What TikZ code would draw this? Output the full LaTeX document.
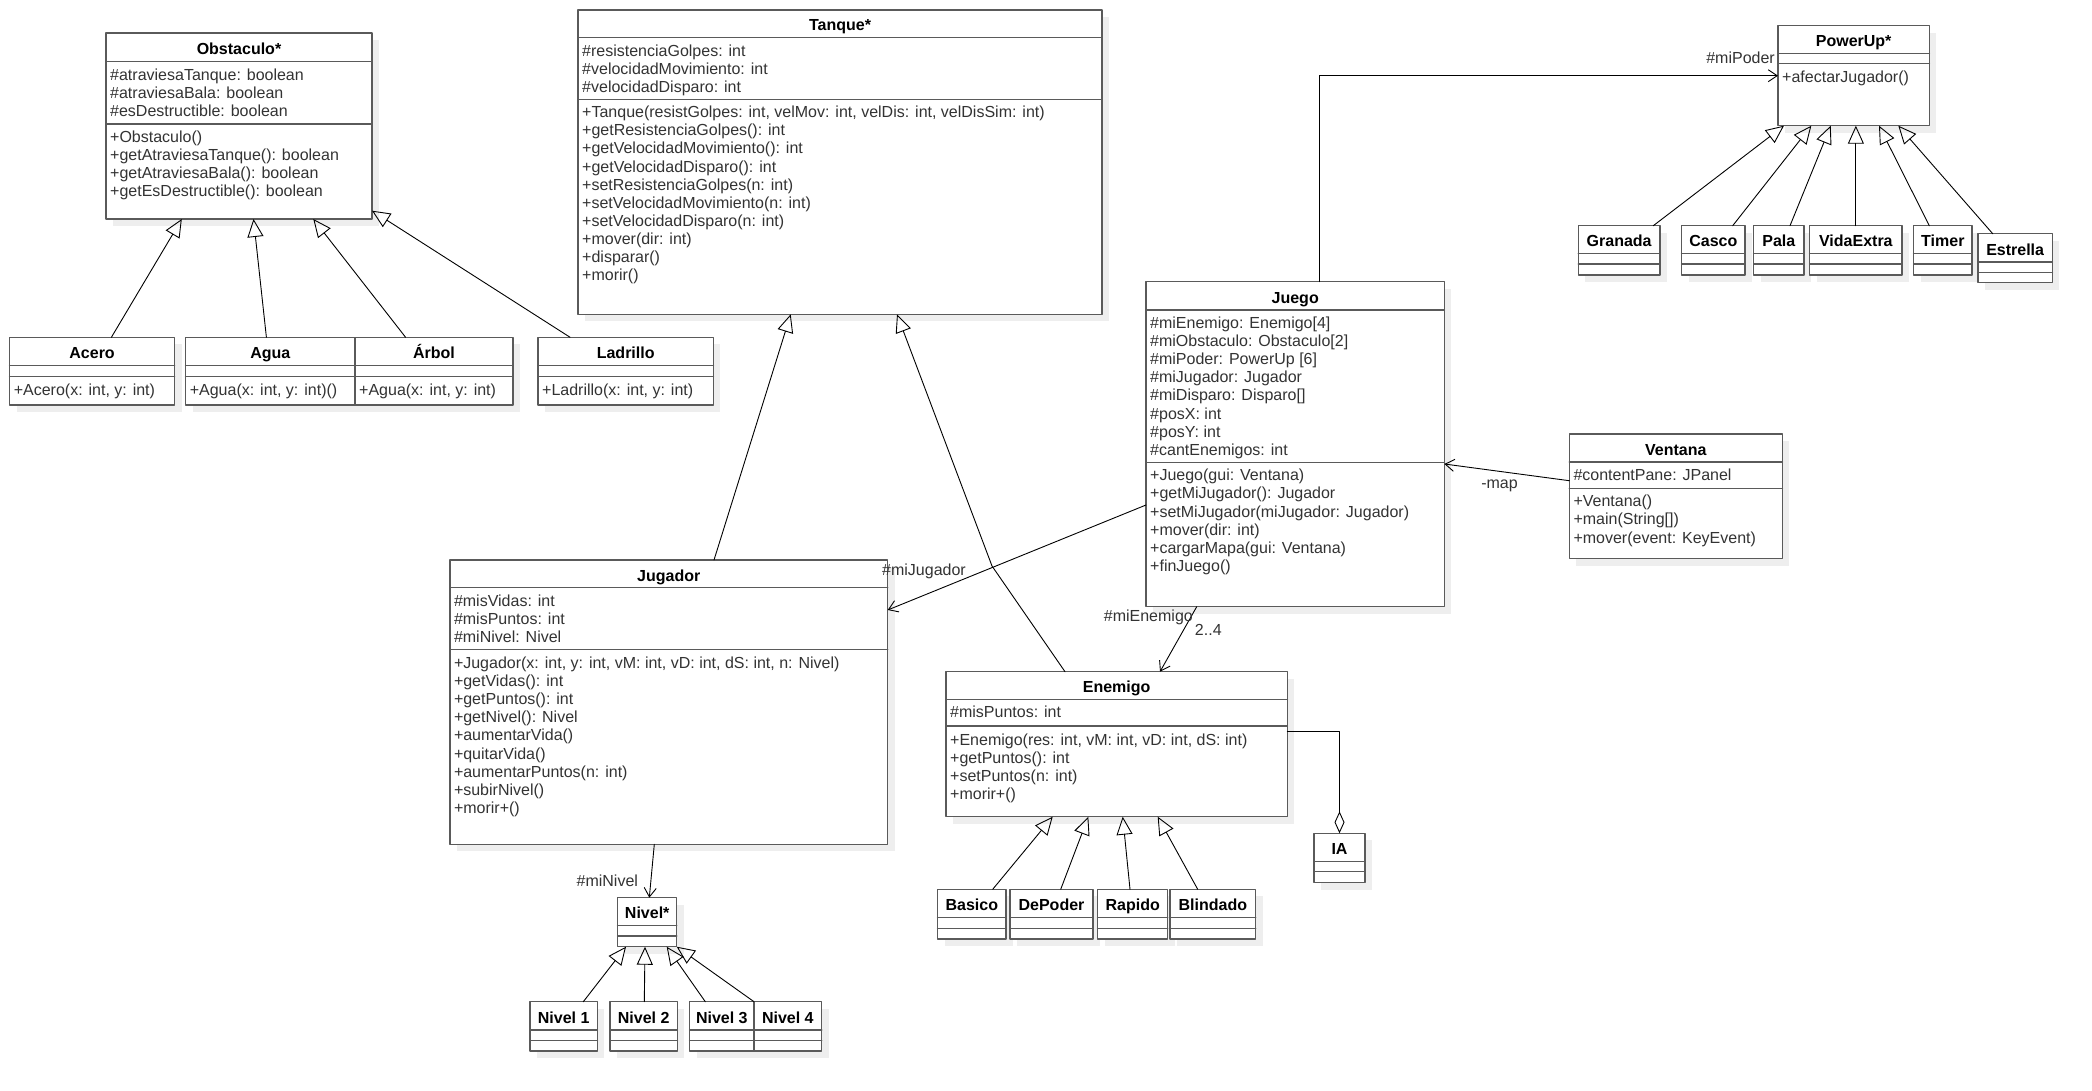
\documentclass[tikz,border=0pt]{standalone}
\usepackage{fontspec}
\setmainfont{Liberation Sans}
\usetikzlibrary{arrows.meta,shadows}
\definecolor{gris}{HTML}{5A5A5A}
\definecolor{tinta}{HTML}{333333}
\definecolor{sombra}{HTML}{EEEEEE}
\newcommand{\lineas}[1]{\begin{tabular}[t]{@{}l@{}}#1\end{tabular}}

\begin{document}
\begin{tikzpicture}[line cap=round,line join=round,x=1pt,y=-1pt,
	caja/.style={draw=gris,line width=1.5pt,fill=white,inner sep=0pt,outer sep=0pt,anchor=north west,
		drop shadow={shadow xshift=7pt,shadow yshift=-7pt,fill=sombra,opacity=1}},
	linea/.style={draw=gris,line width=1.5pt},
	titulo/.style={anchor=base,inner sep=0pt,yshift=-1.5pt,font=\fontsize{16}{18.1}\selectfont\bfseries},
	texto/.style={anchor=base west,inner sep=0pt,text=tinta,font=\fontsize{16}{18.1}\selectfont},
	etiqueta/.style={inner sep=0pt,text=tinta,font=\fontsize{16}{18.1}\selectfont},
	gen/.style={-{Triangle[open,length=18pt,width=16pt]},line width=0.9pt},
	asoc/.style={-{Straight Barb[length=9pt,width=12pt]},line width=0.9pt},
	agreg/.style={-{Diamond[open,length=22pt,width=10pt]},line width=0.9pt}]
			\fill[white] (0,0) rectangle (2092,1091);
			\node[caja,minimum width=266,minimum height=186] (obstaculo) at (106,33) {};
			\draw[linea] (106,61.7) -- (372,61.7) (106,124) -- (372,124);
			\node[titulo] (obstaculoT) at (239,53.1) {Obstaculo*};
			\node[texto] (obstaculoA) at (110,80.2) {\lineas{\#atraviesaTanque: boolean\\\#atraviesaBala: boolean\\\#esDestructible: boolean}};
			\node[texto] (obstaculoM) at (110,142.5) {\lineas{+Obstaculo()\\+getAtraviesaTanque(): boolean\\+getAtraviesaBala(): boolean\\+getEsDestructible(): boolean}};
			\node[caja,minimum width=165,minimum height=67.7] (acero) at (9.6,337.3) {};
			\draw[linea] (9.6,365.7) -- (174.6,365.7) (9.6,376.7) -- (174.6,376.7);
			\node[titulo] (aceroT) at (92.1,357.2) {Acero};
			\node[texto] (aceroM) at (13.6,395.2) {+Acero(x: int, y: int)};
			\node[caja,minimum width=169.4,minimum height=67.7] (agua) at (185.6,337.3) {};
			\draw[linea] (185.6,365.7) -- (355,365.7) (185.6,376.7) -- (355,376.7);
			\node[titulo] (aguaT) at (270.3,357.2) {Agua};
			\node[texto] (aguaM) at (189.6,395.2) {+Agua(x: int, y: int)()};
			\node[caja,minimum width=158,minimum height=67.7] (arbol) at (355,337.3) {};
			\draw[linea] (355,365.7) -- (513,365.7) (355,376.7) -- (513,376.7);
			\node[titulo] (arbolT) at (434,357.2) {Árbol};
			\node[texto] (arbolM) at (359,395.2) {+Agua(x: int, y: int)};
			\node[caja,minimum width=175.4,minimum height=67.7] (ladrillo) at (538,337.3) {};
			\draw[linea] (538,365.7) -- (713.4,365.7) (538,376.7) -- (713.4,376.7);
			\node[titulo] (ladrilloT) at (625.7,357.2) {Ladrillo};
			\node[texto] (ladrilloM) at (542,395.2) {+Ladrillo(x: int, y: int)};
			\node[caja,minimum width=524,minimum height=304.3] (tanque) at (578,10) {};
			\draw[linea] (578,37.7) -- (1102,37.7) (578,99.3) -- (1102,99.3);
			\node[titulo] (tanqueT) at (840,29.5) {Tanque*};
			\node[texto] (tanqueA) at (582,56.2) {\lineas{\#resistenciaGolpes: int\\\#velocidadMovimiento: int\\\#velocidadDisparo: int}};
			\node[texto] (tanqueM) at (582,117.8) {\lineas{+Tanque(resistGolpes: int, velMov: int, velDis: int, velDisSim: int)\\+getResistenciaGolpes(): int\\+getVelocidadMovimiento(): int\\+getVelocidadDisparo(): int\\+setResistenciaGolpes(n: int)\\+setVelocidadMovimiento(n: int)\\+setVelocidadDisparo(n: int)\\+mover(dir: int)\\+disparar()\\+morir()}};
			\node[caja,minimum width=437.9,minimum height=284.3] (jugador) at (449.8,560) {};
			\draw[linea] (449.8,587.7) -- (887.7,587.7) (449.8,649.3) -- (887.7,649.3);
			\node[titulo] (jugadorT) at (668.75,579.6) {Jugador};
			\node[texto] (jugadorA) at (453.8,606.2) {\lineas{\#misVidas: int\\\#misPuntos: int\\\#miNivel: Nivel}};
			\node[texto] (jugadorM) at (453.8,668.5) {\lineas{+Jugador(x: int, y: int, vM: int, vD: int, dS: int, n: Nivel)\\+getVidas(): int\\+getPuntos(): int\\+getNivel(): Nivel\\+aumentarVida()\\+quitarVida()\\+aumentarPuntos(n: int)\\+subirNivel()\\+morir+()}};
			\node[caja,minimum width=59,minimum height=49] (nivel) at (617.7,897.7) {};
			\draw[linea] (617.7,925.7) -- (676.7,925.7) (617.7,936) -- (676.7,936);
			\node[titulo] (nivelT) at (647.2,917.4) {Nivel*};
			\node[caja,minimum width=67.3,minimum height=49.3] (nivel1) at (530,1001.7) {};
			\draw[linea] (530,1030) -- (597.3,1030) (530,1040.3) -- (597.3,1040.3);
			\node[titulo] (nivel1T) at (563.65,1021.6) {Nivel 1};
			\node[caja,minimum width=67.3,minimum height=49.3] (nivel2) at (610,1001.7) {};
			\draw[linea] (610,1030) -- (677.3,1030) (610,1040.3) -- (677.3,1040.3);
			\node[titulo] (nivel2T) at (643.65,1021.6) {Nivel 2};
			\node[caja,minimum width=64.3,minimum height=49.3] (nivel3) at (689.7,1001.7) {};
			\draw[linea] (689.7,1030) -- (754,1030) (689.7,1040.3) -- (754,1040.3);
			\node[titulo] (nivel3T) at (721.85,1021.6) {Nivel 3};
			\node[caja,minimum width=67.7,minimum height=49.3] (nivel4) at (754,1001.7) {};
			\draw[linea] (754,1030) -- (821.7,1030) (754,1040.3) -- (821.7,1040.3);
			\node[titulo] (nivel4T) at (787.85,1021.6) {Nivel 4};
			\node[caja,minimum width=341.3,minimum height=145] (enemigo) at (946,671.7) {};
			\draw[linea] (946,699.3) -- (1287.3,699.3) (946,726) -- (1287.3,726);
			\node[titulo] (enemigoT) at (1116.65,691.2) {Enemigo};
			\node[texto] (enemigoA) at (950,717.8) {\#misPuntos: int};
			\node[texto] (enemigoM) at (950,745.3) {\lineas{+Enemigo(res: int, vM: int, vD: int, dS: int)\\+getPuntos(): int\\+setPuntos(n: int)\\+morir+()}};
			\node[caja,minimum width=68.3,minimum height=49.7] (basico) at (937.7,889.3) {};
			\draw[linea] (937.7,917.3) -- (1006,917.3) (937.7,928.3) -- (1006,928.3);
			\node[titulo] (basicoT) at (971.85,909) {Basico};
			\node[caja,minimum width=83,minimum height=49.7] (depoder) at (1010,889.3) {};
			\draw[linea] (1010,917.3) -- (1093,917.3) (1010,928.3) -- (1093,928.3);
			\node[titulo] (depoderT) at (1051.5,909) {DePoder};
			\node[caja,minimum width=70,minimum height=49.7] (rapido) at (1097.7,889.3) {};
			\draw[linea] (1097.7,917.3) -- (1167.7,917.3) (1097.7,928.3) -- (1167.7,928.3);
			\node[titulo] (rapidoT) at (1132.7,909) {Rapido};
			\node[caja,minimum width=85.7,minimum height=49.7] (blindado) at (1170,889.3) {};
			\draw[linea] (1170,917.3) -- (1255.7,917.3) (1170,928.3) -- (1255.7,928.3);
			\node[titulo] (blindadoT) at (1212.85,909) {Blindado};
			\node[caja,minimum width=51,minimum height=49.4] (ia) at (1314,833.3) {};
			\draw[linea] (1314,861.7) -- (1365,861.7) (1314,871.7) -- (1365,871.7);
			\node[titulo] (iaT) at (1339.5,853.2) {IA};
			\node[caja,minimum width=298.4,minimum height=325] (juego) at (1146,281.7) {};
			\draw[linea] (1146,310) -- (1444.4,310) (1146,462.3) -- (1444.4,462.3);
			\node[titulo] (juegoT) at (1295.2,301.6) {Juego};
			\node[texto] (juegoA) at (1150,328.5) {\lineas{\#miEnemigo: Enemigo[4]\\\#miObstaculo: Obstaculo[2]\\\#miPoder: PowerUp [6]\\\#miJugador: Jugador\\\#miDisparo: Disparo[]\\\#posX: int\\\#posY: int\\\#cantEnemigos: int}};
			\node[texto] (juegoM) at (1150,480.8) {\lineas{+Juego(gui: Ventana)\\+getMiJugador(): Jugador\\+setMiJugador(miJugador: Jugador)\\+mover(dir: int)\\+cargarMapa(gui: Ventana)\\+finJuego()}};
			\node[caja,minimum width=213.1,minimum height=124.7] (ventana) at (1569.3,434) {};
			\draw[linea] (1569.3,462) -- (1782.4,462) (1569.3,488.3) -- (1782.4,488.3);
			\node[titulo] (ventanaT) at (1675.85,453.7) {Ventana};
			\node[texto] (ventanaA) at (1573.3,480.5) {\#contentPane: JPanel};
			\node[texto] (ventanaM) at (1573.3,506.8) {\lineas{+Ventana()\\+main(String[])\\+mover(event: KeyEvent)}};
			\node[caja,minimum width=151.3,minimum height=100] (powerup) at (1778,25.7) {};
			\draw[linea] (1778,53.7) -- (1929.3,53.7) (1778,63.7) -- (1929.3,63.7);
			\node[titulo] (powerupT) at (1853.65,45.4) {PowerUp*};
			\node[texto] (powerupM) at (1782,82.2) {+afectarJugador()};
			\node[caja,minimum width=81.7,minimum height=49.3] (granada) at (1578.3,225.7) {};
			\draw[linea] (1578.3,253.7) -- (1660,253.7) (1578.3,264) -- (1660,264);
			\node[titulo] (granadaT) at (1619.15,245.4) {Granada};
			\node[caja,minimum width=63.3,minimum height=49.3] (casco) at (1681.7,225.7) {};
			\draw[linea] (1681.7,253.7) -- (1745,253.7) (1681.7,264) -- (1745,264);
			\node[titulo] (cascoT) at (1713.35,245.4) {Casco};
			\node[caja,minimum width=50.3,minimum height=49.3] (pala) at (1753.7,225.7) {};
			\draw[linea] (1753.7,253.7) -- (1804,253.7) (1753.7,264) -- (1804,264);
			\node[titulo] (palaT) at (1778.85,245.4) {Pala};
			\node[caja,minimum width=92.3,minimum height=49.3] (vidaextra) at (1809.7,225.7) {};
			\draw[linea] (1809.7,253.7) -- (1902,253.7) (1809.7,264) -- (1902,264);
			\node[titulo] (vidaextraT) at (1855.85,245.4) {VidaExtra};
			\node[caja,minimum width=58.3,minimum height=49.3] (timer) at (1913.7,225.7) {};
			\draw[linea] (1913.7,253.7) -- (1972,253.7) (1913.7,264) -- (1972,264);
			\node[titulo] (timerT) at (1942.85,245.4) {Timer};
			\node[caja,minimum width=74.3,minimum height=49] (estrella) at (1978,233.7) {};
			\draw[linea] (1978,262) -- (2052.3,262) (1978,272.3) -- (2052.3,272.3);
			\node[titulo] (estrellaT) at (2015.15,253.6) {Estrella};
			\draw[gen] ([xshift=19.3]acero.north) -- ([xshift=-57.2]obstaculo.south);
			\draw[gen] ([xshift=-3.9]agua.north) -- ([xshift=14.5]obstaculo.south);
			\draw[gen] ([xshift=-28.4]arbol.north) -- ([xshift=74.3]obstaculo.south);
			\draw[gen] ([xshift=-55.6]ladrillo.north) -- ([yshift=8.3]obstaculo.south east);
			\draw[gen] ([xshift=45.25]jugador.north) -- ([xshift=-49.3]tanque.south);
			\coordinate (codo) at (992,566);
			\draw[gen] ([xshift=-51.65]enemigo.north) -- (codo) -- ([xshift=57]tanque.south);
			\draw[asoc] ([xshift=-14.45]jugador.south) -- ([xshift=2.1]nivel.north);
			\draw[gen] ([xshift=19.65]nivel1.north) -- ([xshift=-21.2]nivel.south);
			\draw[gen] ([xshift=0.65]nivel2.north) -- ([xshift=-2.2]nivel.south);
			\draw[gen] ([xshift=-16.55]nivel3.north) -- ([xshift=19.5]nivel.south);
			\draw[gen] (nivel4.north west) -- (nivel.south east);
			\draw[gen] ([xshift=20.85]basico.north) -- ([xshift=-63.95]enemigo.south);
			\draw[gen] ([xshift=9.2]depoder.north) -- ([xshift=-28.35]enemigo.south);
			\draw[gen] ([xshift=-2.7]rapido.north) -- ([xshift=6.05]enemigo.south);
			\draw[gen] ([xshift=-15.15]blindado.north) -- ([xshift=41.05]enemigo.south);
			\draw[agreg] ([yshift=12.5]enemigo.east) -| (ia.north);
			\draw[asoc] ([yshift=-60.8]juego.west) -- ([yshift=92.15]jugador.east);
			\draw[asoc] ([xshift=-98.5]juego.south) -- ([xshift=43.35]enemigo.north);
			\draw[asoc] ([yshift=15.65]ventana.west) -- ([yshift=-19.8]juego.east);
			\draw[asoc] ([xshift=23.8]juego.north) |- (powerup.west);
			\draw[gen] ([xshift=34.15]granada.north) -- ([xshift=-69.65]powerup.south);
			\draw[gen] ([xshift=19.35]casco.north) -- ([xshift=-42.35]powerup.south);
			\draw[gen] ([xshift=11.15]pala.north) -- ([xshift=-22.95]powerup.south);
			\draw[gen] (vidaextra.north) -- (vidaextra.north |- powerup.south);
			\draw[gen] ([xshift=-13.55]timer.north) -- ([xshift=25.35]powerup.south);
			\draw[gen] ([xshift=-22.45]estrella.north) -- ([xshift=44.65]powerup.south);
			\node[etiqueta,anchor=base east] (lblPoder) at (1775,63.5) {\#miPoder};
			\node[etiqueta,anchor=base west] (lblJugador) at (882,575) {\#miJugador};
			\node[etiqueta,anchor=base east] (lblEnemigo) at (1193,621.8) {\#miEnemigo};
			\node[etiqueta,anchor=base] (lblMult) at (1208.3,635) {2..4};
			\node[etiqueta,anchor=base] (lblNivel) at (607.3,886.5) {\#miNivel};
			\node[etiqueta,anchor=base] (lblMap) at (1499.5,488) {-map};
		\end{tikzpicture}
\end{document}
